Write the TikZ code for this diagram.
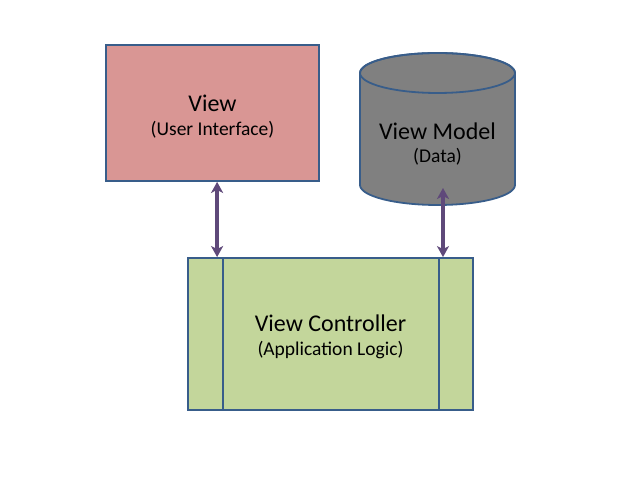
\documentclass[tikz,border=0pt]{standalone}
\usepackage{fontspec}
\setmainfont{Carlito}
\usepackage{tikz}
\usetikzlibrary{arrows.meta,positioning,calc}
\definecolor{MvcBorder}{HTML}{385D8A}
\definecolor{MvcRose}{HTML}{D99694}
\definecolor{MvcGray}{HTML}{808080}
\definecolor{MvcGreen}{HTML}{C3D69B}
\definecolor{MvcPlum}{HTML}{5F497A}
\newcommand{\mvctitle}[2]{{\fontsize{24}{24}\selectfont\rule{0pt}{23pt}#1}\\#2}

\begin{document}
\begin{tikzpicture}[x=1pt,y=1pt,
  block/.style={draw=MvcBorder,line width=1.8pt,align=center,inner sep=0pt,font=\fontsize{19.5}{24}\selectfont},
  link/.style={{Stealth[length=11pt,width=12pt,inset=3pt]}-{Stealth[length=11pt,width=12pt,inset=3pt]},line width=3.4pt,draw=MvcPlum},
  node distance=0.20in and 0.18in]
  \useasboundingbox[fill=white] (0,0) rectangle (633,478);
  \node[block,fill=MvcRose,minimum width=213pt,minimum height=136pt] (view) at (212.5,365) {\mvctitle{View}{(User Interface)}};
  \node[block,fill=MvcGreen,minimum width=285pt,minimum height=152pt] (ctrl) at (330.5,144) {\mvctitle{View Controller}{(Application Logic)}};
  \draw[MvcBorder,line width=1.3pt] ($(ctrl.north west)+(36,0)$) -- ($(ctrl.south west)+(36,0)$);
  \draw[MvcBorder,line width=1.3pt] ($(ctrl.north east)+(-35,0)$) -- ($(ctrl.south east)+(-35,0)$);
  % data store
  \filldraw[fill=MvcGray,draw=MvcBorder,line width=1.8pt] (360,405) -- (360,293) arc[start angle=180,end angle=360,x radius=77.5,y radius=20] -- (515,405) arc[start angle=0,end angle=180,x radius=77.5,y radius=20] -- cycle;
  \draw[MvcBorder,line width=1.8pt] (437.5,405) ellipse[x radius=77.5,y radius=20];
  \node[align=center,inner sep=0pt,font=\fontsize{19.5}{23}\selectfont] (model) at (437.5,337) {\mvctitle{View Model}{(Data)}};
  \coordinate (modelin) at (443,290);
  \draw[link] ($(view.south west)+(112,0)$) -- ($(ctrl.north west)+(30,0)$);
  \draw[link] (modelin) -- (modelin |- ctrl.north);
\end{tikzpicture}
\end{document}
